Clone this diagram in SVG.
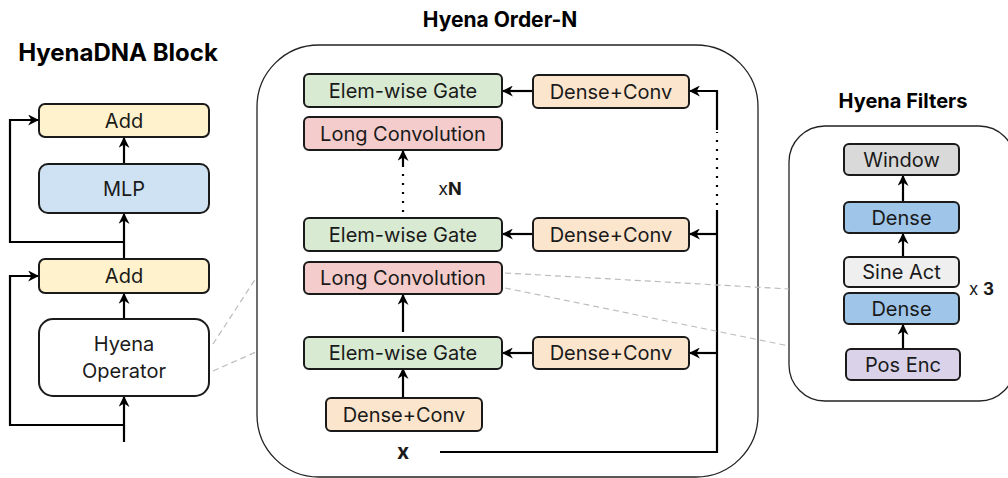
<svg xmlns="http://www.w3.org/2000/svg" width="1008" height="478" viewBox="0 0 1008 478">
<defs>
<style>
text{font-family:Inter,"Noto Sans","Liberation Sans",sans-serif;fill:#1a1a1a}
.lbl{font-size:20px;text-anchor:middle;dominant-baseline:central}
.box{stroke:#1a1a1a;stroke-width:2}
.title{font-weight:bold;text-anchor:middle;fill:#000}
.ln{fill:none;stroke:#000;stroke-width:2.2}
.dot{fill:none;stroke:#000;stroke-width:2.2;stroke-dasharray:2 7}
.dash{fill:none;stroke:#bbb;stroke-width:1.2;stroke-dasharray:6 4}
.panel{fill:#fff;stroke:#222;stroke-width:1.3}
</style>
<marker id="ah" viewBox="0 0 10 10" refX="9" refY="5" markerWidth="5" markerHeight="5" orient="auto" markerUnits="strokeWidth">
<path d="M0,0 L10,5 L0,10 L3,5 z" fill="#000"/>
</marker>
</defs>
<rect width="1008" height="478" fill="#fff"/>

<!-- titles -->
<text class="title" x="118" y="61" font-size="24">HyenaDNA Block</text>
<text class="title" x="500" y="27" font-size="21">Hyena Order-N</text>
<text class="title" x="903" y="108" font-size="20">Hyena Filters</text>

<!-- panels -->
<rect class="panel" x="257" y="45" width="501" height="432" rx="62"/>
<rect class="panel" x="789" y="126" width="226" height="275" rx="36"/>

<g id="connectors">
<!-- left block -->
<path class="ln" d="M124,164 V138" marker-end="url(#ah)"/>
<path class="ln" d="M124,259 V214" marker-end="url(#ah)"/>
<path class="ln" d="M124,319 V294" marker-end="url(#ah)"/>
<path class="ln" d="M124,442 V397" marker-end="url(#ah)"/>
<path class="ln" d="M124,242 H10 V120 H38" marker-end="url(#ah)"/>
<path class="ln" d="M124,425 H10 V276 H38" marker-end="url(#ah)"/>
<!-- order-N -->
<path class="ln" d="M440,452 H717 V210"/>
<path class="dot" d="M717,205 V132"/>
<path class="ln" d="M717,130 V91 H690" marker-end="url(#ah)"/>
<path class="ln" d="M717,234 H690" marker-end="url(#ah)"/>
<path class="ln" d="M717,353 H690" marker-end="url(#ah)"/>
<path class="ln" d="M533,91 H503" marker-end="url(#ah)"/>
<path class="ln" d="M533,234 H503" marker-end="url(#ah)"/>
<path class="ln" d="M533,353 H503" marker-end="url(#ah)"/>
<path class="ln" d="M403,398 V369" marker-end="url(#ah)"/>
<path class="ln" d="M403,332 V295" marker-end="url(#ah)"/>
<path class="dot" d="M403,212 V166"/>
<path class="ln" d="M403,166 V151" marker-end="url(#ah)"/>
<!-- filters -->
<path class="ln" d="M903,202 V176" marker-end="url(#ah)"/>
<path class="ln" d="M903,257 V234" marker-end="url(#ah)"/>
<path class="ln" d="M903,349 V325" marker-end="url(#ah)"/>
<!-- zoom guides -->
<path class="dash" d="M213,344 L256,278"/>
<path class="dash" d="M213,371 L256,352"/>
<path class="dash" d="M505,273 L789,289"/>
<path class="dash" d="M505,288 L789,346"/>
</g>

<g id="add-top"><rect class="box" x="39" y="104" width="170" height="33" rx="6" fill="#fff2cc"/><text class="lbl" x="124" y="120.5">Add</text></g>
<g id="mlp"><rect class="box" x="39" y="164" width="170" height="49" rx="9" fill="#cfe2f3"/><text class="lbl" x="124" y="188.5">MLP</text></g>
<g id="add-bottom"><rect class="box" x="39" y="259" width="170" height="34" rx="6" fill="#fff2cc"/><text class="lbl" x="124" y="276">Add</text></g>
<g id="hyena-operator"><rect class="box" x="39" y="319" width="170" height="77" rx="14" fill="#fff"/><text class="lbl" x="124" y="344">Hyena</text><text class="lbl" x="124" y="371">Operator</text></g>

<g id="gate-top"><rect class="box" x="304" y="74" width="198" height="33" rx="5" fill="#d9ead3"/><text class="lbl" x="403" y="90.5">Elem-wise Gate</text></g>
<g id="dc-top"><rect class="box" x="533" y="75" width="156" height="33" rx="5" fill="#fce5cd"/><text class="lbl" x="611" y="91.5">Dense+Conv</text></g>
<g id="longconv-top"><rect class="box" x="304" y="117" width="198" height="33" rx="5" fill="#f4cccc"/><text class="lbl" x="403" y="133.5">Long Convolution</text></g>
<text x="450" y="195" font-size="18" text-anchor="middle">x<tspan font-weight="bold">N</tspan></text>
<g id="gate-mid"><rect class="box" x="304" y="218" width="198" height="33" rx="5" fill="#d9ead3"/><text class="lbl" x="403" y="234.5">Elem-wise Gate</text></g>
<g id="dc-mid"><rect class="box" x="533" y="218" width="156" height="33" rx="5" fill="#fce5cd"/><text class="lbl" x="611" y="234.5">Dense+Conv</text></g>
<g id="longconv-mid"><rect class="box" x="304" y="262" width="198" height="32" rx="5" fill="#f4cccc"/><text class="lbl" x="403" y="278">Long Convolution</text></g>
<g id="gate-bottom"><rect class="box" x="304" y="337" width="198" height="32" rx="5" fill="#d9ead3"/><text class="lbl" x="403" y="353">Elem-wise Gate</text></g>
<g id="dc-right-bottom"><rect class="box" x="533" y="337" width="156" height="32" rx="5" fill="#fce5cd"/><text class="lbl" x="611" y="353">Dense+Conv</text></g>
<g id="dc-bottom"><rect class="box" x="326" y="398" width="156" height="33" rx="5" fill="#fce5cd"/><text class="lbl" x="404" y="414.5">Dense+Conv</text></g>
<text x="403" y="459" font-size="21" font-weight="bold" text-anchor="middle">x</text>

<g id="window"><rect class="box" x="844" y="144" width="115" height="31" rx="5" fill="#d9d9d9"/><text class="lbl" x="901.5" y="159.5">Window</text></g>
<g id="dense-top"><rect class="box" x="844" y="202" width="115" height="31" rx="5" fill="#9fc5e8"/><text class="lbl" x="901.5" y="217.5">Dense</text></g>
<g id="sine-act"><rect class="box" x="844" y="257" width="115" height="30" rx="5" fill="#efefef"/><text class="lbl" x="901.5" y="272">Sine Act</text></g>
<g id="dense-bottom"><rect class="box" x="844" y="293" width="115" height="31" rx="5" fill="#9fc5e8"/><text class="lbl" x="901.5" y="308.5">Dense</text></g>
<g id="pos-enc"><rect class="box" x="846" y="349" width="114" height="31" rx="5" fill="#d9d2e9"/><text class="lbl" x="903" y="364.5">Pos Enc</text></g>
<text x="969" y="295" font-size="17">x <tspan font-weight="bold">3</tspan></text>
</svg>
